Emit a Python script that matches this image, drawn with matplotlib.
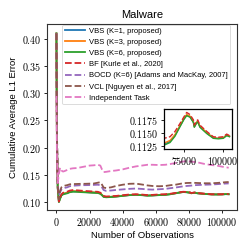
import matplotlib
matplotlib.use("Agg")
import matplotlib.pyplot as plt
from matplotlib.ticker import FixedLocator, FuncFormatter

plt.rcParams['font.family'] = ['Liberation Sans', 'DejaVu Sans']
plt.rcParams['mathtext.fontset'] = 'cm'

x_obs = [0, 300, 800, 1500, 2200, 3000, 4000, 5000, 6500, 8000, 10000, 12500, 15000,
         17500, 20000, 22500, 25000, 26500, 27500, 28500, 30000, 33000, 36000, 40000,
         44000, 48000, 52000, 55000, 58000, 62000, 65800, 69000, 72200, 74800, 76500,
         78650, 80800, 81400, 82900, 83600, 85000, 89400, 93600, 96800, 100000, 102200, 104000]

vbs_k1 = [0.410, 0.216, 0.1255, 0.1003, 0.1068, 0.1127, 0.1147, 0.1157, 0.1167, 0.1186, 0.1196,
          0.1193, 0.1187, 0.1183, 0.1178, 0.1174, 0.1170, 0.1156, 0.1130, 0.1098, 0.1090, 0.1095,
          0.1102, 0.1115, 0.1128, 0.1134, 0.1127, 0.1119, 0.1122, 0.1129, 0.1134, 0.1146, 0.1163,
          0.1177, 0.1184, 0.1181, 0.1171, 0.1162, 0.1170, 0.1172, 0.1162, 0.1150, 0.1141, 0.1140,
          0.1141, 0.1146, 0.1144]
vbs_k3 = [0.410, 0.217, 0.126, 0.1005, 0.107, 0.113, 0.115, 0.116, 0.117, 0.119, 0.120,
          0.1196, 0.1190, 0.1186, 0.1181, 0.1177, 0.1173, 0.1158, 0.1132, 0.1100, 0.1092, 0.1097,
          0.1104, 0.1117, 0.1130, 0.1136, 0.1129, 0.1120, 0.1124, 0.1131, 0.1136, 0.1147, 0.1164,
          0.1178, 0.1185, 0.1182, 0.1172, 0.1162, 0.1171, 0.1172, 0.1163, 0.1151, 0.1141, 0.1140,
          0.1141, 0.1147, 0.1144]
vbs_k6 = [0.410, 0.215, 0.125, 0.100, 0.106, 0.112, 0.114, 0.115, 0.116, 0.118, 0.119,
          0.1188, 0.1182, 0.1178, 0.1174, 0.1170, 0.1166, 0.1152, 0.1126, 0.1095, 0.1087, 0.1092,
          0.1099, 0.1113, 0.1126, 0.1132, 0.1125, 0.1117, 0.1120, 0.1127, 0.1132, 0.1144, 0.1162,
          0.1176, 0.1183, 0.1180, 0.1170, 0.1161, 0.1169, 0.1171, 0.1161, 0.1149, 0.1140, 0.1139,
          0.1140, 0.1145, 0.1143]
bf = [0.410, 0.220, 0.128, 0.101, 0.108, 0.114, 0.117, 0.118, 0.119, 0.121, 0.122,
      0.1215, 0.1208, 0.1203, 0.1198, 0.1192, 0.1188, 0.1172, 0.1145, 0.1112, 0.1102, 0.1106,
      0.1112, 0.1125, 0.1138, 0.1143, 0.1136, 0.1127, 0.1131, 0.1140, 0.1143, 0.1153, 0.1168,
      0.1181, 0.1189, 0.1185, 0.1175, 0.1165, 0.1173, 0.1175, 0.1165, 0.1153, 0.1143, 0.1142,
      0.1143, 0.1148, 0.1145]
bocd = [0.410, 0.230, 0.135, 0.112, 0.118, 0.123, 0.125, 0.126, 0.127, 0.129, 0.130,
        0.1305, 0.1310, 0.1310, 0.1312, 0.1315, 0.1318, 0.1310, 0.1270, 0.1220, 0.1205, 0.1212,
        0.1222, 0.1232, 0.1242, 0.1248, 0.1240, 0.1232, 0.1228, 0.1235, 0.1242, 0.1255, 0.1268,
        0.1280, 0.1288, 0.1295, 0.1300, 0.1302, 0.1308, 0.1310, 0.1312, 0.1318, 0.1322, 0.1328,
        0.1335, 0.1340, 0.1342]
vcl = [0.410, 0.235, 0.130, 0.105, 0.120, 0.127, 0.129, 0.130, 0.131, 0.1325, 0.133,
       0.1332, 0.1335, 0.1335, 0.1338, 0.1340, 0.1355, 0.1365, 0.1320, 0.1265, 0.1258, 0.1270,
       0.1295, 0.1318, 0.1335, 0.1338, 0.1320, 0.1305, 0.1295, 0.1290, 0.1295, 0.1310, 0.1320,
       0.1335, 0.1345, 0.1350, 0.1352, 0.1352, 0.1353, 0.1352, 0.1350, 0.1345, 0.1345, 0.1350,
       0.1358, 0.1365, 0.1368]
indep = [0.295, 0.190, 0.135, 0.152, 0.163, 0.158, 0.156, 0.157, 0.159, 0.161, 0.162,
         0.1625, 0.1640, 0.1655, 0.1670, 0.1675, 0.1685, 0.1670, 0.1600, 0.1550, 0.1555, 0.1570,
         0.1580, 0.1600, 0.1630, 0.1655, 0.1672, 0.1685, 0.1685, 0.1680, 0.1685, 0.1700, 0.1720,
         0.1735, 0.1745, 0.1750, 0.1745, 0.1742, 0.1738, 0.1735, 0.1730, 0.1700, 0.1680, 0.1670,
         0.1650, 0.1640, 0.1630]

labels = ["VBS (K=1, proposed)", "VBS (K=3, proposed)", "VBS (K=6, proposed)",
          "BF [Kurle et al., 2020]", "BOCD (K=6) [Adams and MacKay, 2007]",
          "VCL [Nguyen et al., 2017]", "Independent Task"]
series = [vbs_k1, vbs_k3, vbs_k6, bf, bocd, vcl, indep]
colors = ["tab:blue", "tab:orange", "tab:green", "tab:red", "tab:purple", "tab:brown", "tab:pink"]
styles = ["-", "-", "-", "--", "--", "--", "--"]

main_xticks = [0, 20000, 40000, 60000, 80000, 100000]
main_yticks = [0.10, 0.15, 0.20, 0.25, 0.30, 0.35, 0.40]
inset_xticks = [75000, 100000]
inset_yticks = [0.1125, 0.1150, 0.1175]

fig = plt.figure(figsize=(2.49, 2.49), dpi=100)
ax = fig.add_axes([0.190, 0.157, 0.763, 0.747])

for y, lab, c, ls in zip(series, labels, colors, styles):
    ax.plot(x_obs, y, ls, color=c, lw=1.3, label=lab)

ax.set_xlim(-5500, 109200)
ax.set_ylim(0.0855, 0.4275)
ax.xaxis.set_major_locator(FixedLocator(main_xticks))
ax.yaxis.set_major_locator(FixedLocator(main_yticks))
ax.xaxis.set_major_formatter(FuncFormatter(lambda v, p: r"$%d$" % v))
ax.yaxis.set_major_formatter(FuncFormatter(lambda v, p: r"$%.2f$" % v))
ax.tick_params(labelsize=7.2, length=2.5, width=0.6, pad=2)
for s in ax.spines.values():
    s.set_linewidth(0.8)
    s.set_color("#333333")
ax.set_title("Malware", fontsize=8.0, pad=4)
ax.set_xlabel("Number of Observations", fontsize=6.8, labelpad=2)
ax.set_ylabel("Cumulative Average L1 Error", fontsize=6.8, labelpad=3)

leg = ax.legend(loc="upper right", bbox_to_anchor=(0.962, 0.996), borderaxespad=0,
                fontsize=5.5, handlelength=2.6, labelspacing=0.5, borderpad=0.35,
                handletextpad=0.5, framealpha=0.8)
leg.get_frame().set_linewidth(0.6)

axin = fig.add_axes([0.659, 0.400, 0.274, 0.161])
for y, c, ls in zip(series[:4], colors[:4], styles[:4]):
    axin.plot(x_obs, y, ls, color=c, lw=1.0)
axin.set_xlim(62000, 105800)
axin.set_ylim(0.1119, 0.1195)
axin.xaxis.set_major_locator(FixedLocator(inset_xticks))
axin.yaxis.set_major_locator(FixedLocator(inset_yticks))
axin.xaxis.set_major_formatter(FuncFormatter(lambda v, p: r"$%d$" % v))
axin.yaxis.set_major_formatter(FuncFormatter(lambda v, p: r"$%.4f$" % v))
axin.tick_params(labelsize=7.2, length=2.5, width=0.6, pad=1.5)
for s in axin.spines.values():
    s.set_linewidth(0.9)
    s.set_color("black")

fig.savefig("out.png", dpi=100)
